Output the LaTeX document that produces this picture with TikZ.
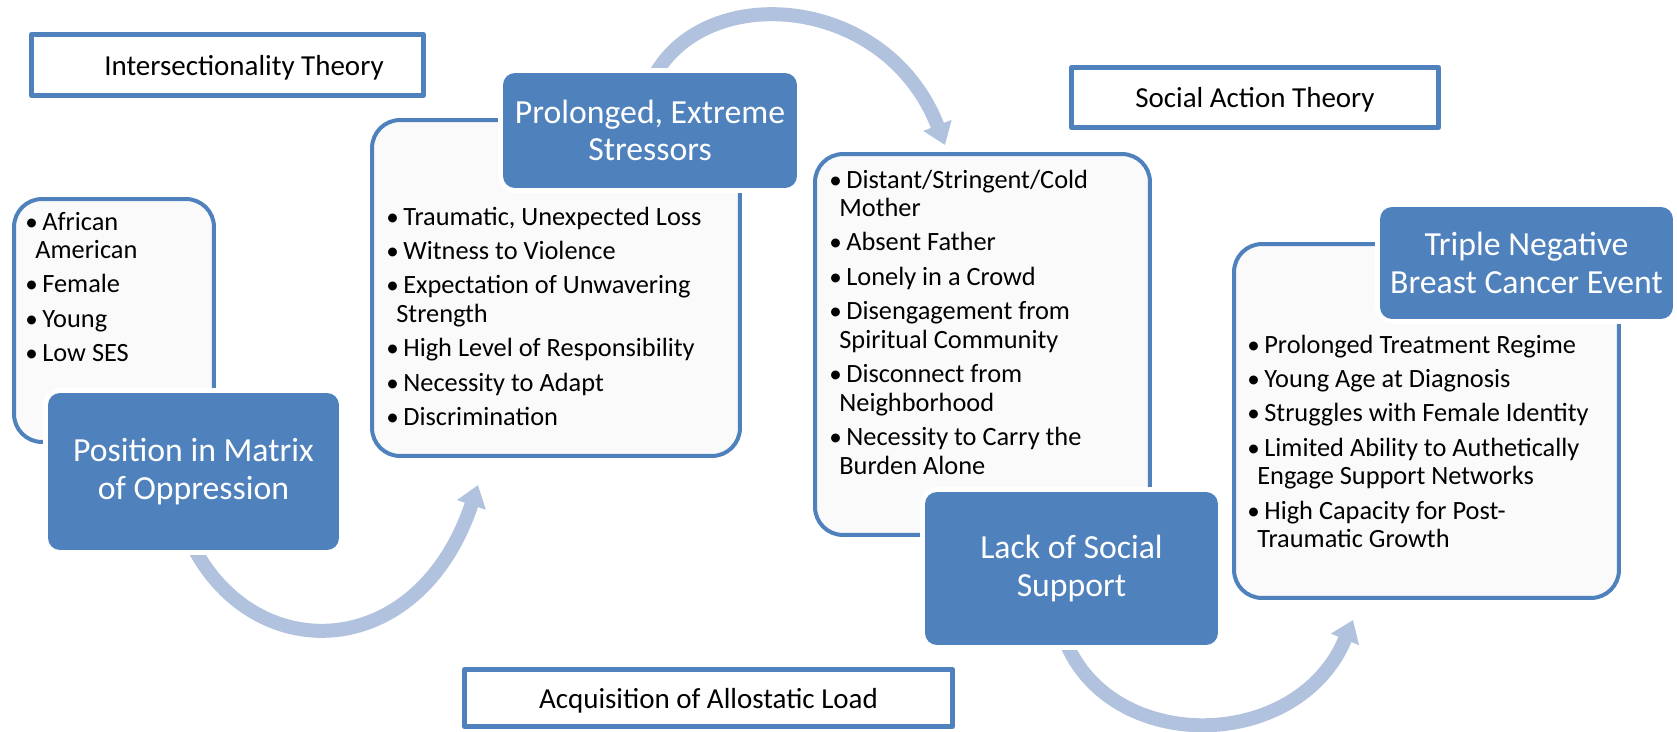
\documentclass[tikz,border=0pt]{standalone}
\usepackage{fontspec}
\setmainfont{Carlito}
\usetikzlibrary{arrows.meta}
\definecolor{boxblue}{RGB}{79,129,189}
\definecolor{arrowblue}{RGB}{177,194,222}
\newcommand{\itm}{\makebox[0.32cm][l]{\hspace{-0.02cm}\scalebox{0.95}{\textbullet}}}
\newcommand{\cont}{\hspace*{0.18cm}}
\begin{document}
\begin{tikzpicture}[x=0.02cm, y=-0.02cm, line join=round,
  theory/.style={draw=boxblue, line width=0.1cm, inner sep=0pt, text height=0.4cm, text depth=0pt, font=\fontsize{16.5}{19}\selectfont},
  listbox/.style={draw=boxblue, line width=0.08cm, fill=black!2, rounded corners=0.56cm, inner sep=0pt},
  listtext/.style={anchor=base west, inner sep=0pt, font=\fontsize{15}{16.2}\selectfont},
  head/.style={fill=boxblue, text=white, rounded corners=0.24cm, align=center, inner sep=0pt, preaction={draw=white, line width=0.2cm}, font=\fontsize{19.2}{21.5}\selectfont},
  flow/.style={draw=arrowblue, line width=0.28cm, -{Triangle[width=0.58cm,length=0.42cm]}}]
\useasboundingbox (0,0) rectangle (1677,731);

\node[theory, minimum width=7.84cm, minimum height=1.22cm] (inter) at (227.5,65) {\hspace*{0.66cm}Intersectionality Theory};
\node[theory, minimum width=7.34cm, minimum height=1.2cm] (action) at (1255,97.5) {Social Action Theory};
\node[theory, minimum width=9.76cm, minimum height=1.14cm] (load) at (708.5,698) {Acquisition of Allostatic Load};

\coordinate (a1s) at (190,540);
\coordinate (a1e) at (478,485);
\coordinate (a2s) at (650,85);
\coordinate (a2e) at (945,145);
\coordinate (a3s) at (1065,640);
\coordinate (a3e) at (1353,620);
\draw[flow] (a1s) .. controls (250,668) and (418,665) .. (a1e);
\draw[flow] (a2s) .. controls (695,-20) and (885,-10) .. (a2e);
\draw[flow] (a3s) .. controls (1110,755) and (1298,753) .. (a3e);

\node[listbox, minimum width=4cm, minimum height=4.86cm] (oppr) at (114,320.5) {};
\node[listbox, minimum width=7.36cm, minimum height=6.72cm] (stress) at (556,288) {};
\node[listbox, minimum width=6.7cm, minimum height=7.62cm] (social) at (982.5,344.5) {};
\node[listbox, minimum width=7.7cm, minimum height=7.08cm] (tnbc) at (1426.5,421) {};

\node[listtext] (oppr-t) at (26,230) {\begin{tabular}[t]{@{}l@{}}
\itm African\\ \cont American\\[3.4pt]
\itm Female\\[3.4pt]
\itm Young\\[3.4pt]
\itm Low SES
\end{tabular}};
\node[listtext] (stress-t) at (387,225) {\begin{tabular}[t]{@{}l@{}}
\itm Traumatic, Unexpected Loss\\[3.4pt]
\itm Witness to Violence\\[3.4pt]
\itm Expectation of Unwavering\\ \cont Strength\\[3.4pt]
\itm High Level of Responsibility\\[3.4pt]
\itm Necessity to Adapt\\[3.4pt]
\itm Discrimination
\end{tabular}};
\node[listtext] (social-t) at (830,188) {\begin{tabular}[t]{@{}l@{}}
\itm Distant/Stringent/Cold\\ \cont Mother\\[3.4pt]
\itm Absent Father\\[3.4pt]
\itm Lonely in a Crowd\\[3.4pt]
\itm Disengagement from\\ \cont Spiritual Community\\[3.4pt]
\itm Disconnect from\\ \cont Neighborhood\\[3.4pt]
\itm Necessity to Carry the\\ \cont Burden Alone
\end{tabular}};
\node[listtext] (tnbc-t) at (1248,353) {\begin{tabular}[t]{@{}l@{}}
\itm Prolonged Treatment Regime\\[3.4pt]
\itm Young Age at Diagnosis\\[3.4pt]
\itm Struggles with Female Identity\\[3.4pt]
\itm Limited Ability to Authetically\\ \cont Engage Support Networks\\[3.4pt]
\itm High Capacity for Post-\\ \cont Traumatic Growth
\end{tabular}};

\node[head, minimum width=5.82cm, minimum height=3.14cm] (pos) at (193.5,471.5) {Position in Matrix\\of Oppression};
\node[head, minimum width=5.88cm, minimum height=2.3cm] (prol) at (650,130.5) {Prolonged, Extreme\\Stressors};
\node[head, minimum width=5.86cm, minimum height=3.06cm] (lack) at (1071.5,568.5) {Lack of Social\\Support};
\node[head, minimum width=5.86cm, minimum height=2.24cm] (event) at (1526.5,263) {Triple Negative\\Breast Cancer Event};
\end{tikzpicture}
\end{document}
